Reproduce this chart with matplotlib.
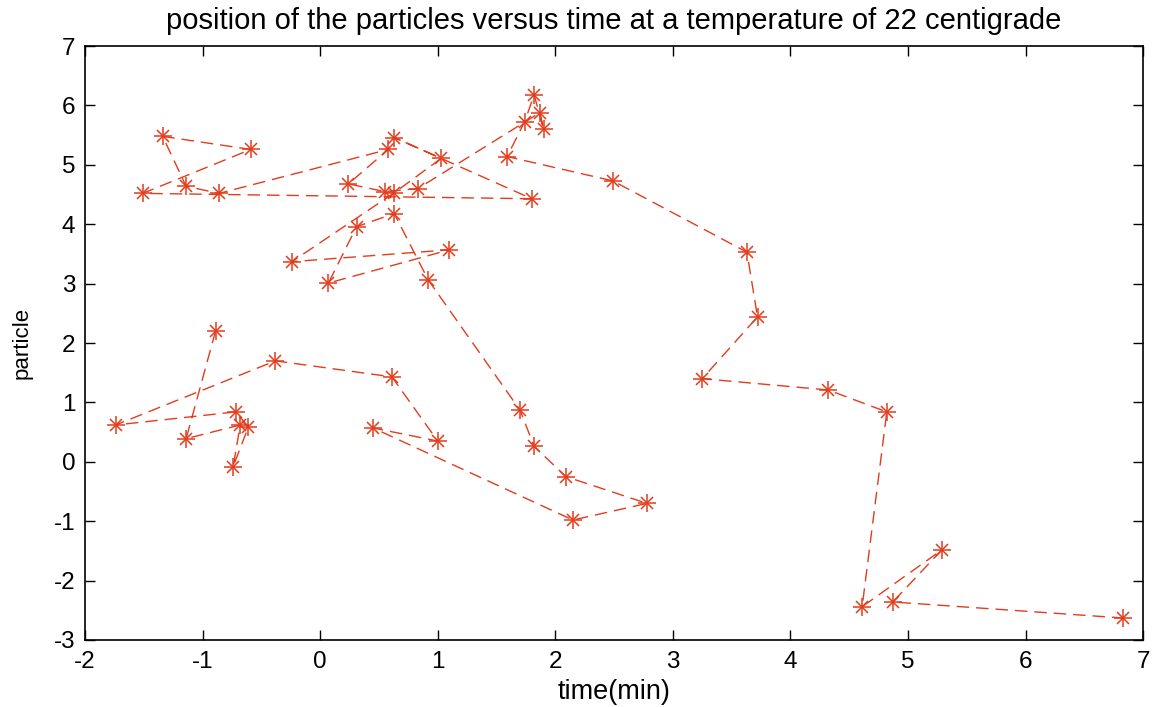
import matplotlib
matplotlib.use("Agg")
import matplotlib.pyplot as plt

plt.rcParams["font.family"] = ["Liberation Sans", "DejaVu Sans"]
plt.rcParams["axes.unicode_minus"] = False

# tracked particle: time (min) and position, in the order it was sampled
time_min = [-0.89, -1.14, -0.68, -0.74, -0.61, -0.72, -1.74, -0.38, 0.61, 1.00,
            0.45, 2.15, 2.78, 2.09, 1.82, 1.70, 0.92, 0.63, 0.31, 0.07,
            1.10, -0.24, 0.63, 1.03, 0.63, 1.80, -1.51, -0.59, -1.34, -1.14,
            -0.86, 0.58, 0.24, 0.55, 0.83, 1.87, 1.90, 1.82, 1.74, 1.59,
            2.49, 3.63, 3.72, 3.25, 4.32, 4.82, 4.61, 5.29, 4.87, 6.83]
position = [2.20, 0.39, 0.62, -0.08, 0.59, 0.84, 0.62, 1.70, 1.43, 0.35,
            0.57, -0.98, -0.70, -0.25, 0.26, 0.87, 3.06, 4.18, 3.96, 3.01,
            3.57, 3.37, 4.53, 5.11, 5.46, 4.43, 4.52, 5.26, 5.48, 4.64,
            4.52, 5.26, 4.68, 4.55, 4.60, 5.88, 5.60, 6.18, 5.73, 5.14,
            4.73, 3.53, 2.44, 1.40, 1.21, 0.84, -2.44, -1.48, -2.36, -2.63]

x_ticks = [-2, -1, 0, 1, 2, 3, 4, 5, 6, 7]
y_ticks = [-3, -2, -1, 0, 1, 2, 3, 4, 5, 6, 7]

red = "#e23c1c"

fig = plt.figure(figsize=(11.57, 7.07), dpi=100)
ax = fig.add_axes([0.0735, 0.0948, 0.9145, 0.840])

# dashed path with '+' markers, then 'x' on top to make an asterisk
ax.plot(time_min, position, color=red, lw=1.0, ls=(0, (9, 5)), marker="+",
        ms=13, mew=1.1)
ax.plot(time_min, position, color=red, lw=0, marker="x", ms=9, mew=1.1)

ax.set_xlim(-2, 7)
ax.set_ylim(-3, 7)
ax.set_xticks(x_ticks)
ax.set_yticks(y_ticks)
ax.tick_params(direction="in", length=7, width=1, top=True, right=True,
               labelsize=17.5)
ax.tick_params(axis="x", pad=8)
ax.tick_params(axis="y", pad=7)
for side in ax.spines.values():
    side.set_linewidth(1.2)

ax.set_xlabel("time(min)", fontsize=19.5, labelpad=4)
ax.set_ylabel("particle", fontsize=16, labelpad=15)
ax.set_title("position of the particles versus time at a temperature of 22 centigrade",
             fontsize=21, pad=12)

fig.savefig("out.png", dpi=100)
